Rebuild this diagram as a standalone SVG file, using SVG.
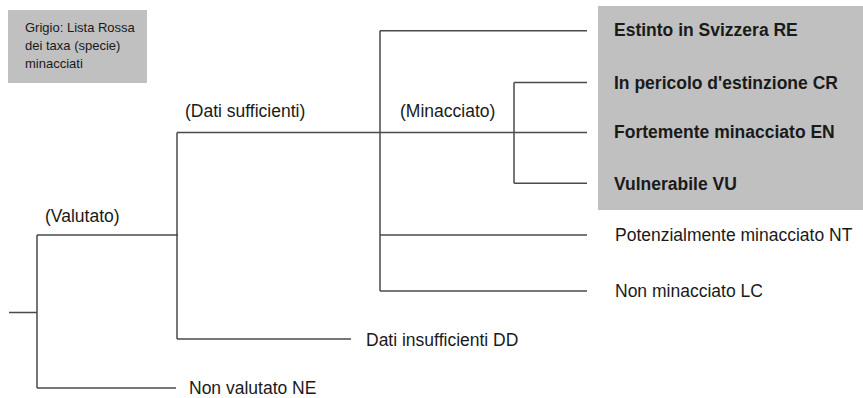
<svg xmlns="http://www.w3.org/2000/svg" width="863" height="398" viewBox="0 0 863 398">
<style>
.t{font-family:"Liberation Sans",Arial,sans-serif;font-size:17.5px;fill:#1a1a1a}
.b{font-weight:bold}
.s{font-size:13px}
.c{fill:none;stroke:#4a4a4a;stroke-width:1.5}
.g{fill:#c0c0c0}
</style>
<rect width="863" height="398" fill="#fff"/>
<g id="legend">
<rect class="g" x="8" y="10" width="139" height="73"/>
<text class="t s" x="25" y="32">Grigio: Lista Rossa</text>
<text class="t s" x="25" y="50">dei taxa (specie)</text>
<text class="t s" x="25" y="68">minacciati</text>
</g>
<rect id="redlist" class="g" x="598" y="6" width="265" height="204"/>
<g id="connectors">
<path class="c" d="M9,312.5H37M37,235V388M37,235H178M37,388H176M177,132.5V339M177,132.5H587M177,339H351M380,30.7V291M380,30.7H587M380,235H587M380,291H587M514,82.5V183.3M514,82.5H587M514,183.3H587"/>
</g>
<g id="valutato"><text class="t" x="45" y="222">(Valutato)</text></g>
<g id="dati-sufficienti"><text class="t" x="185" y="117">(Dati sufficienti)</text></g>
<g id="minacciato"><text class="t" x="400" y="117">(Minacciato)</text></g>
<g id="RE"><text class="t b" x="614" y="36">Estinto in Svizzera RE</text></g>
<g id="CR"><text class="t b" x="614" y="88.5">In pericolo d'estinzione CR</text></g>
<g id="EN"><text class="t b" x="614" y="138">Fortemente minacciato EN</text></g>
<g id="VU"><text class="t b" x="614" y="189.5">Vulnerabile VU</text></g>
<g id="NT"><text class="t" x="615" y="241">Potenzialmente minacciato NT</text></g>
<g id="LC"><text class="t" x="615" y="297">Non minacciato LC</text></g>
<g id="DD"><text class="t" x="366" y="346">Dati insufficienti DD</text></g>
<g id="NE"><text class="t" x="189" y="393.5">Non valutato NE</text></g>
</svg>
